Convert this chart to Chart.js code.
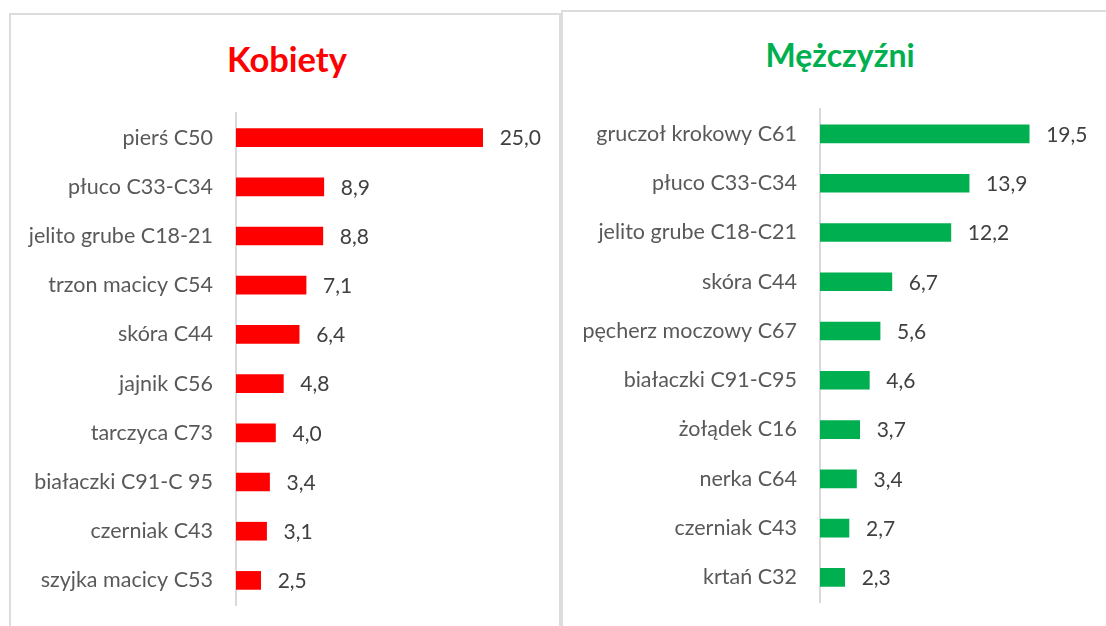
<!DOCTYPE html>
<html lang="pl">
<head>
<meta charset="UTF-8">
<title>Nowotwory - Kobiety i Mężczyźni</title>
<script src="https://cdn.jsdelivr.net/npm/chart.js"></script>
<style>
    body { margin: 0; width: 1106px; height: 626px; overflow: hidden; position: relative; background: #fff; font-family: Lato, "Open Sans", sans-serif; }
    .panel { position: absolute; border: 2px solid #dcdcdc; background: #fff; }
    .title { position: absolute; font-weight: bold; text-align: center; line-height: 1; }
    canvas { position: absolute; }
</style>
</head>
<body>
<div class="panel" style="left:9px; top:13px; width:548px; height:640px;"></div>
<div class="panel" style="left:561px; top:10px; width:600px; height:640px;"></div>

<div class="title" style="left:137px; width:300px; top:42px; font-size:34.5px; color:#ff0000;">Kobiety</div>
<div class="title" style="left:690px; width:300px; top:39px; font-size:32px; color:#00b050;">Mężczyźni</div>

<!-- płótna sięgają poniżej krawędzi strony, bo oś Y rezerwuje miejsce na dole -->
<canvas id="womenChart" style="left:12px; top:16px;" width="546" height="625"></canvas>
<canvas id="menChart" style="left:564px; top:13px;" width="542" height="625"></canvas>

<script>
// dane - Kobiety
var womenLabels = ["pierś C50", "płuco C33-C34", "jelito grube C18-21", "trzon macicy C54", "skóra C44",
    "jajnik C56", "tarczyca C73", "białaczki C91-C 95", "czerniak C43", "szyjka macicy C53"];
var womenValues = [25.0, 8.9, 8.8, 7.1, 6.4, 4.8, 4.0, 3.4, 3.1, 2.5];

// dane - Mężczyźni
var menLabels = ["gruczoł krokowy C61", "płuco C33-C34", "jelito grube C18-C21", "skóra C44", "pęcherz moczowy C67",
    "białaczki C91-C95", "żołądek C16", "nerka C64", "czerniak C43", "krtań C32"];
var menValues = [19.5, 13.9, 12.2, 6.7, 5.6, 4.6, 3.7, 3.4, 2.7, 2.3];

// etykiety wartości obok słupków
var valueLabels = {
    id: "valueLabels",
    afterDatasetsDraw(chart) {
        var ctx = chart.ctx;
        ctx.save();
        ctx.font = "21px Lato, 'Open Sans', sans-serif";
        ctx.fillStyle = "#404040";
        ctx.textBaseline = "middle";
        chart.getDatasetMeta(0).data.forEach(function (bar, i) {
            var v = chart.data.datasets[0].data[i];
            ctx.fillText(v.toFixed(1).replace(".", ","), bar.x + 17, bar.y + 1);
        });
        ctx.restore();
    }
};

function makeChart(id, labels, values, color, xMax, axisWidth, pad) {
    var ctx = document.getElementById(id).getContext("2d");
    return new Chart(ctx, {
        type: "bar",
        data: {
            labels: labels,
            datasets: [{ data: values, backgroundColor: color, barThickness: 18 }]
        },
        options: {
            indexAxis: "y",
            responsive: false,
            animation: false,
            layout: { padding: pad },
            plugins: { legend: { display: false }, tooltip: { enabled: false } },
            scales: {
                x: { display: false, min: 0, max: xMax },
                y: {
                    grid: { display: false, drawTicks: false },
                    border: { display: true, color: "#d9d9d9", width: 2 },
                    ticks: { color: "#595959", padding: 23, font: { family: "Lato, 'Open Sans', sans-serif", size: 21.5 } },
                    afterFit: function (scale) { scale.width = axisWidth; }
                }
            }
        },
        plugins: [valueLabels]
    });
}

makeChart("womenChart", womenLabels, womenValues, "#ff0000", 30, 224, { top: 97, bottom: 36, left: 0, right: 26 });
makeChart("menChart", menLabels, menValues, "#00b050", 22, 256, { top: 96.3, bottom: 36, left: 0, right: 50 });
</script>
</body>
</html>
